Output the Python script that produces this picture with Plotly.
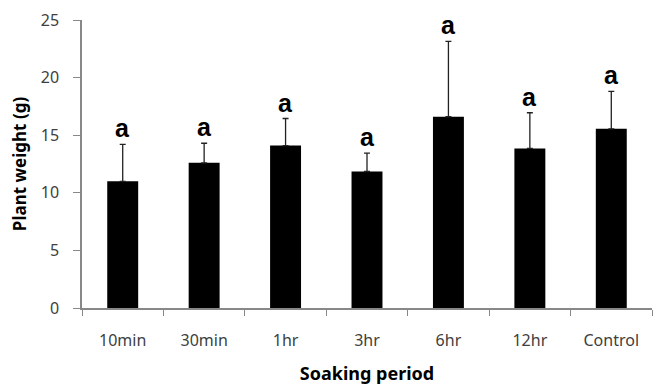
import plotly.graph_objects as go

categories = ["10min", "30min", "1hr", "3hr", "6hr", "12hr", "Control"]
weights = [11.0, 12.6, 14.1, 11.85, 16.6, 13.85, 15.55]
errors = [3.2, 1.7, 2.35, 1.6, 6.55, 3.1, 3.25]
letters = ["a", "a", "a", "a", "a", "a", "a"]
y_ticks = [0, 5, 10, 15, 20, 25]

fig = go.Figure()
fig.add_trace(go.Bar(
    x=categories, y=weights,
    marker=dict(color="black", line=dict(color="black", width=0)),
    width=0.38,
    error_y=dict(type="data", array=errors, arrayminus=[0]*len(errors), symmetric=False,
                 color="#222222", thickness=1.3, width=3),
    showlegend=False,
))

for c, w, e, l in zip(categories, weights, errors, letters):
    fig.add_annotation(x=c, y=w + e, text="<b>" + l + "</b>", showarrow=False,
                       yanchor="bottom", yshift=0,
                       font=dict(family="Arial, Liberation Sans", size=25, color="black"))

axis_font = dict(family="Noto Sans, DejaVu Sans", size=16, color="#404040")
title_font = dict(family="Noto Sans, DejaVu Sans", size=17, color="black")
fig.update_layout(
    width=663, height=377,
    margin=dict(l=74, r=19, t=12, b=77),
    plot_bgcolor="white", paper_bgcolor="white",
    xaxis=dict(
        type="category", showline=True, linecolor="#888888", linewidth=1.5,
        ticks="outside", tickson="boundaries", ticklen=6, tickcolor="#888888",
        tickfont=axis_font, showgrid=False, ticklabelstandoff=17, automargin=False,
        title=dict(text="<b>Soaking period</b>", standoff=19,
                   font=dict(family="Noto Sans, DejaVu Sans", size=18, color="black")),
    ),
    yaxis=dict(
        range=[0, 25], tickvals=y_ticks, showline=True, linecolor="#888888", linewidth=1.5,
        ticks="outside", ticklen=7, tickcolor="#888888", tickfont=axis_font,
        showgrid=False, zeroline=False, ticklabelstandoff=11, automargin=False,
        ticklabeloverflow="allow",
        title=dict(text="<b>Plant weight (g)</b>", standoff=14, font=title_font),
    ),
)

fig.write_html("out.html")
